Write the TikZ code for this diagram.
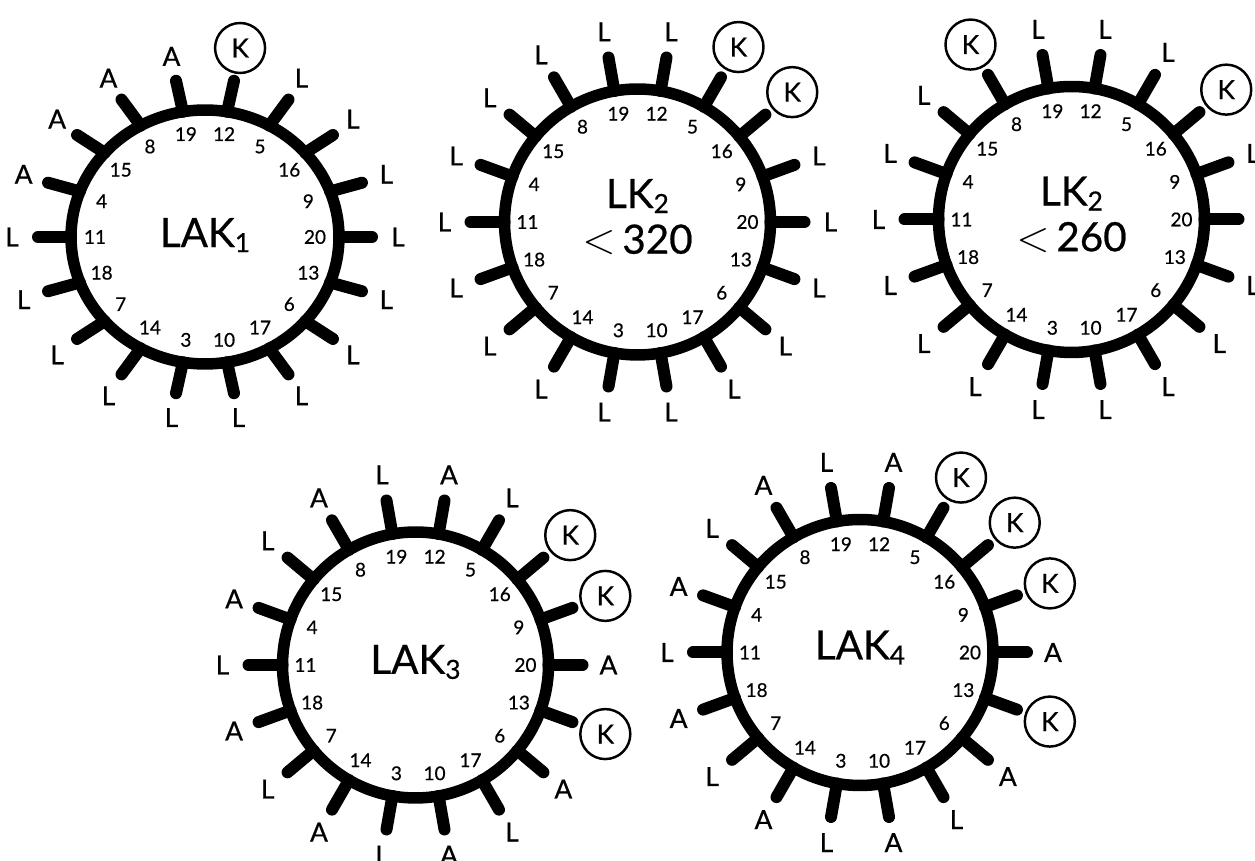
\documentclass[tikz,border=0pt]{standalone}
\usepackage{fontspec}
\setmainfont{Lato}[FakeBold=0.6]
\usetikzlibrary{shapes.geometric}

\newcommand{\wsub}[1]{\raisebox{-0.1cm}{\fontsize{15}{15}\selectfont #1}}
\newcommand{\distL}{193}
\newcommand{\distA}{193}
\newcommand{\distK}{202}
\newcommand{\wheelspokes}[2]{%
  \foreach \num/\res [count=\i from 0] in {#2} {
    \pgfmathtruncatemacro\ang{80-20*\i}
    \coordinate (#1s\num) at (\ang:167);
    \draw[spoke] (#1.\ang) -- (#1s\num);
    \node[res\res] (#1r\num) at (\ang:\csname dist\res\endcsname) {\res};
    \node[posnum] (#1n\num) at (\ang:110) {\num};
  }}

\begin{document}
\begin{tikzpicture}[x=0.02cm, y=0.02cm,
  rim/.style={circle, draw, line width=0.23cm, minimum size=5.32cm, inner sep=0pt, outer sep=0pt},
  wname/.style={align=center, inner sep=0pt, font=\fontsize{23}{26}\selectfont},
  spoke/.style={line width=0.24cm, line cap=round},
  resL/.style={font=\fontsize{15}{16}\selectfont, inner sep=0pt},
  resA/.style={resL},
  resK/.style={resL, circle, draw, line width=1.4pt, minimum size=1.0cm},
  posnum/.style={font=\fontsize{10.8}{12}\selectfont, inner sep=0pt}]
  \useasboundingbox (0,0) rectangle (1255,861);

  % LAK1
  \begin{scope}[shift={(205,624)}, yscale=0.95]
    \node[rim, ellipse, minimum width=5.36cm, minimum height=5.08cm] (w1) at (0,0) {};
    \node[wname] (w1t) at (0,2) {LAK\wsub{1}};
    \wheelspokes{w1}{12/K,5/L,16/L,9/L,20/L,13/L,6/L,17/L,10/L,3/L,14/L,7/L,18/L,11/L,4/A,15/A,8/A,19/A}
  \end{scope}

  % LK2 < 320
  \begin{scope}[shift={(637.5,639)}]
    \node[rim] (w2) at (0,0) {};
    \node[wname] (w2t) at (0,5) {LK\wsub{2}\\$<$\,320};
    \wheelspokes{w2}{12/L,5/K,16/K,9/L,20/L,13/L,6/L,17/L,10/L,3/L,14/L,7/L,18/L,11/L,4/L,15/L,8/L,19/L}
  \end{scope}

  % LK2 < 260
  \begin{scope}[shift={(1071.5,641.5)}]
    \node[rim] (w3) at (0,0) {};
    \node[wname] (w3t) at (0,5) {LK\wsub{2}\\$<$\,260};
    \wheelspokes{w3}{12/L,5/L,16/K,9/L,20/L,13/L,6/L,17/L,10/L,3/L,14/L,7/L,18/L,11/L,4/L,15/L,8/K,19/L}
  \end{scope}

  % LAK3
  \begin{scope}[shift={(415.5,196)}]
    \node[rim] (w4) at (0,0) {};
    \node[wname] (w4t) at (0,3) {LAK\wsub{3}};
    \wheelspokes{w4}{12/A,5/L,16/K,9/K,20/A,13/K,6/A,17/L,10/A,3/L,14/A,7/L,18/A,11/L,4/A,15/L,8/A,19/L}
  \end{scope}

  % LAK4
  \begin{scope}[shift={(860,208.5)}]
    \node[rim] (w5) at (0,0) {};
    \node[wname] (w5t) at (0,5) {LAK\wsub{4}};
    \wheelspokes{w5}{12/A,5/K,16/K,9/K,20/A,13/K,6/A,17/L,10/A,3/L,14/A,7/L,18/A,11/L,4/A,15/L,8/A,19/L}
  \end{scope}
\end{tikzpicture}
\end{document}
